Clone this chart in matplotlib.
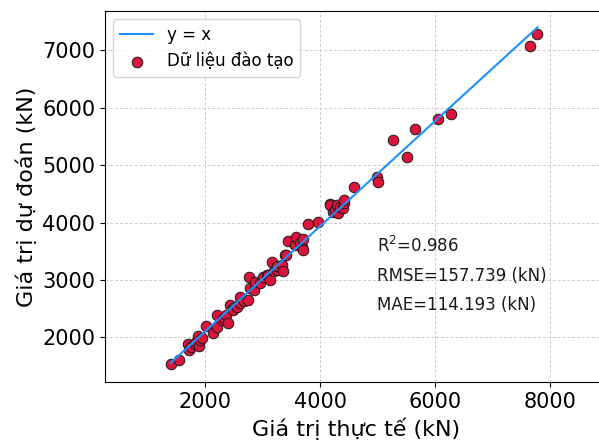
import numpy as np
import matplotlib.pyplot as plt

actual = [1403, 1553, 1710, 1727, 1760, 1826, 1850, 1883, 1901, 1913, 1950,
          2017, 2134, 2203, 2214, 2300, 2330, 2365, 2405, 2435, 2480, 2493,
          2551, 2600, 2609, 2680, 2753, 2770, 2783, 2850, 2870, 2950, 3014,
          3073, 3100, 3130, 3160, 3200, 3247, 3250, 3334, 3362, 3391, 3409,
          3449, 3565, 3583, 3652, 3682, 3699, 3710, 3797, 3971, 4174, 4174,
          4232, 4261, 4300, 4319, 4348, 4395, 4417, 4417, 4591, 4986, 5009,
          5275, 5508, 5657, 6047, 6273, 7657, 7779]
predicted = [1534, 1616, 1883, 1778, 1830, 1895, 1930, 2023, 1853, 1953, 1990,
             2197, 2080, 2185, 2389, 2300, 2332, 2389, 2244, 2564, 2520, 2476,
             2534, 2600, 2709, 2640, 2651, 3058, 2855, 2820, 2970, 2940, 3058,
             3087, 3080, 3000, 3319, 3150, 3175, 3250, 3262, 3162, 3436, 3436,
             3686, 3611, 3745, 3640, 3581, 3710, 3524, 3977, 4017, 4326, 4309,
             4192, 4222, 4300, 4164, 4269, 4251, 4349, 4396, 4618, 4792, 4698,
             5443, 5141, 5630, 5798, 5892, 7079, 7288]

line_x = [1403, 7779]
line_y = [1557, 7396]

metrics = ["R$^2$=0.986", "RMSE=157.739 (kN)", "MAE=114.193 (kN)"]

fig = plt.figure(figsize=(5.99, 4.43), dpi=100)
ax = fig.add_axes([0.1753, 0.137, 0.839, 0.838])

ax.plot(line_x, line_y, color="#1e90ff", lw=1.5, label="y = x", zorder=3)
ax.scatter(actual, predicted, s=58, c="crimson", edgecolors="#1a1a1a",
           linewidths=0.7, label="Dữ liệu đào tạo", zorder=2)

ax.set_xlim(261, 9000)
ax.set_ylim(1220, 7681)
ax.set_xticks([2000, 4000, 6000, 8000])
ax.set_yticks([2000, 3000, 4000, 5000, 6000, 7000])
ax.tick_params(labelsize=15)
ax.grid(True, linestyle=(0, (3, 2)), color="#cccccc", linewidth=0.7)
ax.set_axisbelow(True)

ax.set_xlabel("Giá trị thực tế (kN)", fontsize=16)
ax.set_ylabel("Giá trị dự đoán (kN)", fontsize=16)

for i, txt in enumerate(metrics):
    ax.text(0.541, 0.350 - 0.0775 * i, txt, transform=ax.transAxes,
            fontsize=12, va="baseline", color="#1a1a1a")

ax.legend(loc="upper left", fontsize=12)

fig.savefig("out.png", dpi=100)
